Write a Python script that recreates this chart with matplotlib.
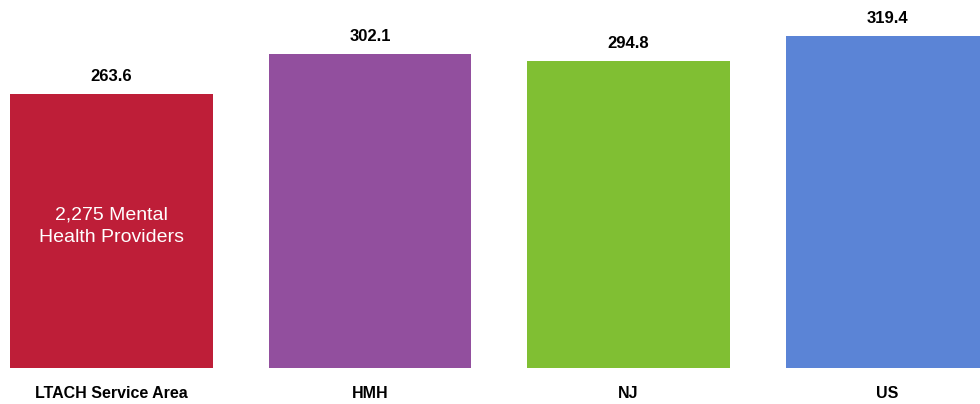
import matplotlib.pyplot as plt

categories = ['LTACH Service Area', 'HMH', 'NJ', 'US']
values = [263.6, 302.1, 294.8, 319.4]
colors = ['#BE1E38', '#924F9E', '#80BF33', '#5B84D6']
inner_note = '2,275 Mental\nHealth Providers'

plt.rcParams['font.family'] = ['Liberation Sans', 'DejaVu Sans']

fig = plt.figure(figsize=(9.8, 4.04), dpi=100)
ax = fig.add_axes([0, 36 / 404, 1, 368 / 404])

x = list(range(len(categories)))
ax.bar(x, values, width=0.785, color=colors)

for xi, v in zip(x, values):
    ax.annotate(f'{v:.1f}', (xi, v), xytext=(0, 7), textcoords='offset points',
                ha='center', va='bottom', fontsize=12, fontweight='bold')

ax.text(0, 136, inner_note, ha='center', va='center', color='white',
        fontsize=14, linespacing=1.42)

ax.set_xlim(-111.5 / 258.5, (980 - 111.5) / 258.5)
ax.set_ylim(0, 368 / 1.041)
ax.axis('off')

for xi, c in zip(x, categories):
    ax.annotate(c, (xi, 0), xytext=(0, -18), textcoords='offset points',
                ha='center', va='center', fontsize=11.5, fontweight='bold')

fig.savefig('out.png', dpi=100)
